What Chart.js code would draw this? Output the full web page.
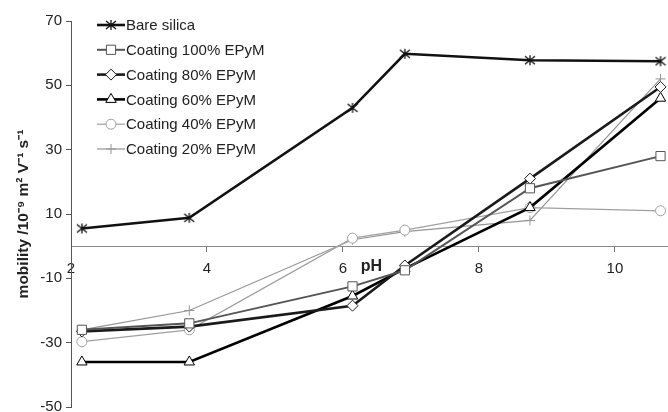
<!DOCTYPE html>
<html>
<head>
<meta charset="utf-8">
<script src="https://cdn.jsdelivr.net/npm/chart.js@4.4.1/dist/chart.umd.min.js"></script>
<style>
  html, body { margin: 0; padding: 0; background: #fff; }
  #wrap { width: 668px; height: 412px; }
</style>
</head>
<body>
<div id="wrap"><canvas id="mobilityChart"></canvas></div>
<script>
const phValues = [2.16, 3.74, 6.14, 6.91, 8.75, 10.67];

const bareSilica = [5.5, 8.8, 43.0, 59.8, 57.8, 57.5];
const coating100 = [-26.0, -24.0, -12.5, -7.5, 18.0, 28.0];
const coating80 = [-26.5, -25.0, -18.5, -6.0, 21.0, 49.5];
const coating60 = [-36.0, -36.0, -15.5, -7.0, 12.0, 46.0];
const coating40 = [-29.7, -26.0, 2.5, 5.0, 12.0, 11.0];
const coating20 = [-26.0, -20.0, 2.0, 4.5, 8.0, 52.0];

const seriesNames = [
  "Bare silica",
  "Coating 100% EPyM",
  "Coating 80% EPyM",
  "Coating 60% EPyM",
  "Coating 40% EPyM",
  "Coating 20% EPyM",
];

const xTicks = [2, 4, 6, 8, 10];
const yTicks = [-50, -30, -10, 10, 30, 50, 70];

const FONT = "'Liberation Sans', Arial, sans-serif";

// asterisk-like marker: an X with a vertical stroke through it
function asteriskMarker(size, color) {
  const c = document.createElement("canvas");
  c.width = size;
  c.height = size;
  const g = c.getContext("2d");
  const m = size / 2;
  const r = size / 2 - 1;
  g.strokeStyle = color;
  g.lineWidth = 1.3;
  g.beginPath();
  g.moveTo(m - r, m - r * 0.8);
  g.lineTo(m + r, m + r * 0.8);
  g.moveTo(m - r, m + r * 0.8);
  g.lineTo(m + r, m - r * 0.8);
  g.moveTo(m, m - r);
  g.lineTo(m, m + r);
  g.stroke();
  return c;
}

function toPoints(values) {
  return values.map((v, i) => ({ x: phValues[i], y: v }));
}

const styles = [
  { color: "#111", width: 2.6, pointStyle: asteriskMarker(12, "#111"), radius: 6 },
  { color: "#555", width: 2.0, pointStyle: "rect", radius: 6.5 },
  { color: "#1a1a1a", width: 2.6, pointStyle: "rectRot", radius: 5.5 },
  { color: "#000", width: 2.6, pointStyle: "triangle", radius: 6 },
  { color: "#a0a0a0", width: 1.2, pointStyle: "circle", radius: 5 },
  { color: "#959595", width: 1.2, pointStyle: "cross", radius: 5 },
];

const allSeries = [bareSilica, coating100, coating80, coating60, coating40, coating20];

const datasets = allSeries.map((values, i) => ({
  label: seriesNames[i],
  data: toPoints(values),
  borderColor: styles[i].color,
  borderWidth: styles[i].width,
  tension: 0,
  pointStyle: styles[i].pointStyle,
  pointRadius: styles[i].radius,
  pointBorderWidth: 1,
  pointBorderColor: styles[i].color,
  pointBackgroundColor: "#fff",
}));

// legend drawn inside the plot, top-left, with Excel-like line samples
const insideLegend = {
  id: "insideLegend",
  afterDraw(chart) {
    const ctx = chart.ctx;
    const x0 = 97;
    const x1 = 125;
    ctx.save();
    chart.data.datasets.forEach((ds, i) => {
      const y = 25 + i * 24.8;
      ctx.strokeStyle = ds.borderColor;
      ctx.lineWidth = ds.borderWidth;
      ctx.beginPath();
      ctx.moveTo(x0, y);
      ctx.lineTo(x1, y);
      ctx.stroke();
      ctx.fillStyle = "#fff";
      ctx.strokeStyle = ds.pointBorderColor;
      ctx.lineWidth = 1;
      Chart.helpers.drawPoint(ctx, {
        pointStyle: ds.pointStyle,
        radius: ds.pointRadius,
        borderWidth: 1,
        rotation: 0,
      }, (x0 + x1) / 2, y);
      ctx.fillStyle = "#222";
      ctx.font = "15px " + FONT;
      ctx.textBaseline = "middle";
      ctx.textAlign = "left";
      ctx.fillText(ds.label, x1 + 1, y + 1);
    });
    ctx.restore();
  },
};

// "pH" sits beside the tick labels, under the zero line
const phLabel = {
  id: "phLabel",
  afterDraw(chart) {
    const { ctx, chartArea, scales } = chart;
    const yZero = scales.y.getPixelForValue(0);
    ctx.save();
    ctx.fillStyle = "#222";
    ctx.font = "bold 16px " + FONT;
    ctx.textAlign = "center";
    ctx.textBaseline = "alphabetic";
    ctx.fillText("pH", (chartArea.left + chartArea.right) / 2 + 2, yZero + 25);
    ctx.restore();
  },
};

new Chart(document.getElementById("mobilityChart"), {
  type: "line",
  data: { datasets },
  plugins: [insideLegend, phLabel],
  options: {
    responsive: true,
    maintainAspectRatio: false,
    animation: false,
    layout: {
      autoPadding: false,
      padding: { top: 21, bottom: 5, left: 0, right: 0 },
    },
    plugins: {
      legend: { display: false },
      tooltip: { enabled: false },
    },
    scales: {
      x: {
        type: "linear",
        position: { y: 0 },
        min: 2,
        max: 10.78,
        afterBuildTicks: (scale) => {
          scale.ticks = xTicks.map((v) => ({ value: v }));
        },
        afterFit: (scale) => {
          scale.paddingLeft = 0;
          scale.paddingRight = 0;
        },
        grid: {
          drawOnChartArea: false,
          drawTicks: true,
          tickLength: 5,
          color: "#777",
        },
        border: { display: true, color: "#8a8a8a", width: 1 },
        ticks: {
          color: "#222",
          font: { size: 15, family: FONT },
          padding: 9,
          maxRotation: 0,
        },
      },
      y: {
        type: "linear",
        min: -50,
        max: 70,
        afterBuildTicks: (scale) => {
          scale.ticks = yTicks.map((v) => ({ value: v }));
        },
        afterFit: (scale) => {
          scale.width = 71;
          scale.paddingTop = 0;
          scale.paddingBottom = 0;
        },
        grid: {
          drawOnChartArea: false,
          drawTicks: true,
          tickLength: 5,
          color: "#555",
        },
        border: { display: true, color: "#555", width: 1 },
        ticks: {
          color: "#222",
          font: { size: 15, family: FONT },
          padding: 4,
        },
        title: {
          display: true,
          text: "mobility /10⁻⁹ m² V⁻¹ s⁻¹",
          color: "#222",
          font: { size: 15.5, weight: "bold", family: FONT },
          padding: { top: 14, bottom: 0 },
        },
      },
    },
  },
});
</script>
</body>
</html>
